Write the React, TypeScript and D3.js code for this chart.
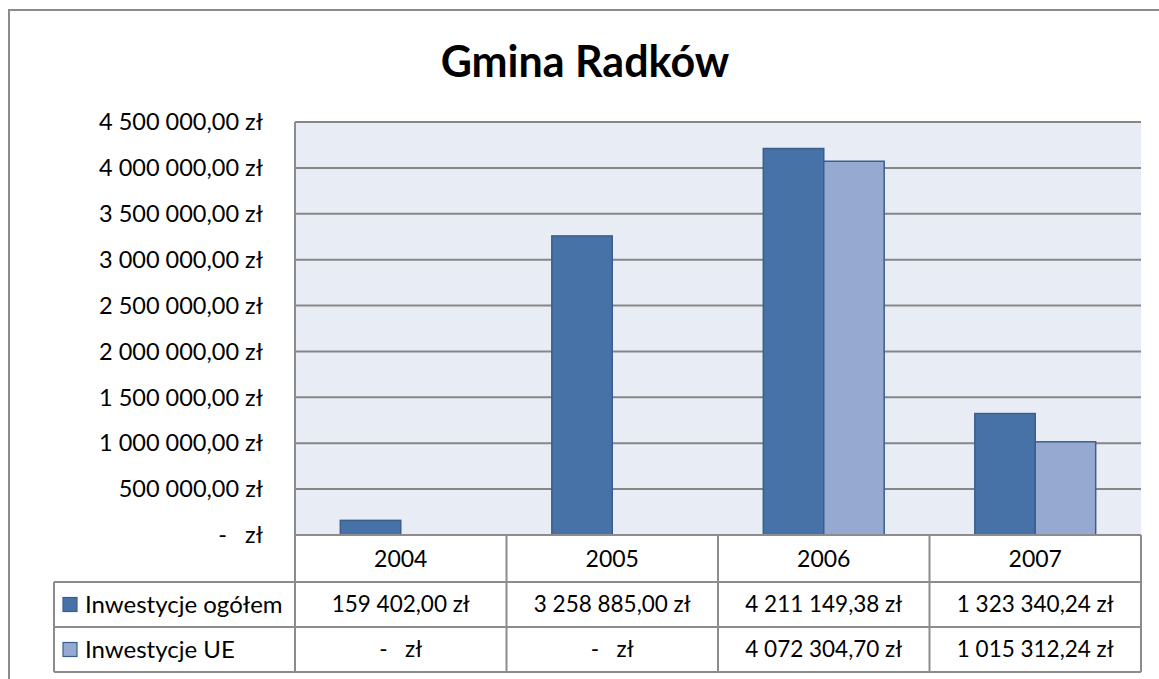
import React from "react";
import * as d3 from "d3";

const years = ["2004", "2005", "2006", "2007"];
const seriesNames = ["Inwestycje ogółem", "Inwestycje UE"];
const ogolem = [159402.0, 3258885.0, 4211149.38, 1323340.24];
const ue = [0, 0, 4072304.7, 1015312.24];
const tickValues = [0, 500000, 1000000, 1500000, 2000000, 2500000, 3000000, 3500000, 4000000, 4500000];
const colors = ["#4672A8", "#95A9D1"];
const title = "Gmina Radków";

const W = 1159, H = 679;
const FONT = "Lato, 'Open Sans', sans-serif";

const locale = d3.formatLocale({ decimal: ",", thousands: "\u00a0", grouping: [3], currency: ["", " zł"] });
const numFmt = locale.format(",.2f");
const fmt = (v: number) => (v === 0 ? "-   zł" : `${numFmt(v)} zł`);

export default function App() {
  const plotL = 295, plotR = 1141, plotT = 122, plotB = 535;
  const tableL = 54;
  const rowH = [535, 582, 627, 672];

  const x0 = d3.scaleBand<string>().domain(years).range([plotL, plotR]).paddingInner(0).paddingOuter(0);
  const x1 = d3.scaleBand<string>().domain(seriesNames).range([0, x0.bandwidth()]).paddingInner(0).paddingOuter(0.75);
  const y = d3.scaleLinear().domain([0, 4500000]).range([plotB, plotT]);
  const seriesData = [ogolem, ue];

  const gridColor = "#868686";
  const tableColor = "#8c8c8c";

  return (
    <svg width={W} height={H} style={{ position: "absolute", left: 0, top: 0, overflow: "hidden", background: "#fff" }} fontFamily={FONT}>
      {/* outer frame (left and top edges visible) */}
      <path d={`M9,${H + 10} V10 H${W + 10}`} fill="none" stroke="#8c8c8c" strokeWidth={2} />
      <text x={585} y={77} textAnchor="middle" fontSize={43} fontWeight="bold" fill="#000">{title}</text>

      {/* plot background */}
      <rect x={plotL} y={plotT} width={plotR - plotL} height={plotB - plotT} fill="#E8ECF4" />
      {tickValues.filter(t => t > 0).map(t => (
        <line key={t} x1={plotL} x2={plotR} y1={y(t)} y2={y(t)} stroke={gridColor} strokeWidth={2} />
      ))}
      {tickValues.map(t => (
        <text key={"l" + t} x={263} y={y(t)} dy="0.35em" textAnchor="end" fontSize={23.5} fill="#000" style={{ whiteSpace: "pre" }}>{fmt(t)}</text>
      ))}

      {/* bars */}
      {years.map((yr, i) => (
        <g key={yr} transform={`translate(${x0(yr)},0)`}>
          {seriesNames.map((s, j) => {
            const v = seriesData[j][i];
            if (v <= 0) return null;
            return (
              <rect key={s} x={x1(s)!} y={y(v)} width={x1.bandwidth()} height={plotB - y(v)}
                fill={colors[j]} stroke="#3B5F8C" strokeWidth={1.5} />
            );
          })}
        </g>
      ))}

      {/* plot left border */}
      <line x1={plotL} x2={plotL} y1={plotT} y2={rowH[3]} stroke={tableColor} strokeWidth={2} />

      {/* data table */}
      <line x1={plotL} x2={plotR} y1={rowH[0]} y2={rowH[0]} stroke={tableColor} strokeWidth={2} />
      <line x1={tableL} x2={plotR} y1={rowH[1]} y2={rowH[1]} stroke={tableColor} strokeWidth={2} />
      <line x1={tableL} x2={plotR} y1={rowH[2]} y2={rowH[2]} stroke={tableColor} strokeWidth={2} />
      <line x1={tableL} x2={plotR} y1={rowH[3]} y2={rowH[3]} stroke={tableColor} strokeWidth={2} />
      <line x1={tableL} x2={tableL} y1={rowH[1]} y2={rowH[3]} stroke={tableColor} strokeWidth={2} />
      {years.map(yr => (
        <line key={"v" + yr} x1={x0(yr)! + x0.bandwidth()} x2={x0(yr)! + x0.bandwidth()} y1={rowH[0]} y2={rowH[3]} stroke={tableColor} strokeWidth={2} />
      ))}
      {years.map(yr => (
        <text key={"h" + yr} x={x0(yr)! + x0.bandwidth() / 2} y={(rowH[0] + rowH[1]) / 2} dy="0.35em" textAnchor="middle" fontSize={23} fill="#000">{yr}</text>
      ))}
      {seriesNames.map((s, j) => (
        <g key={"row" + s}>
          <rect x={63} y={(rowH[j + 1] + rowH[j + 2]) / 2 - 7} width={14} height={14} fill={colors[j]} stroke="#3B5F8C" strokeWidth={1.2} />
          <text x={85} y={(rowH[j + 1] + rowH[j + 2]) / 2} dy="0.35em" fontSize={24} fill="#000">{s}</text>
          {years.map((yr, i) => (
            <text key={yr} x={x0(yr)! + x0.bandwidth() / 2} y={(rowH[j + 1] + rowH[j + 2]) / 2} dy="0.35em" textAnchor="middle" fontSize={22.5} fill="#000" style={{ whiteSpace: "pre" }}>{fmt(seriesData[j][i])}</text>
          ))}
        </g>
      ))}
    </svg>
  );
}
